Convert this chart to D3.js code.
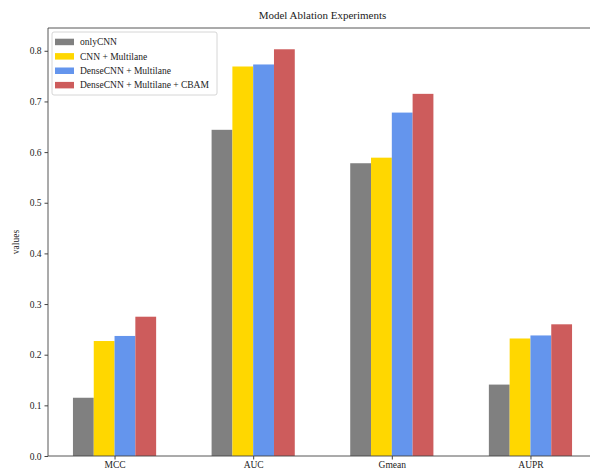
<!DOCTYPE html>
<html>
<head>
<meta charset="utf-8">
<script src="https://cdn.jsdelivr.net/npm/d3@7"></script>
<style>
  html, body { margin: 0; padding: 0; background: #fff; }
  svg { display: block; }
  text { font-family: "Liberation Serif", "DejaVu Serif", serif; fill: #222; }
</style>
</head>
<body>
<script>
// Metrics on the x axis
const categories = ["MCC", "AUC", "Gmean", "AUPR"];
// Model variants (one bar per variant in each group)
const seriesNames = ["onlyCNN", "CNN + Multilane", "DenseCNN + Multilane", "DenseCNN + Multilane + CBAM"];
const onlyCNN = [0.115, 0.644, 0.578, 0.141];
const cnnMultilane = [0.227, 0.769, 0.589, 0.232];
const denseMultilane = [0.237, 0.773, 0.678, 0.238];
const denseMultilaneCbam = [0.275, 0.803, 0.715, 0.260];
const seriesValues = [onlyCNN, cnnMultilane, denseMultilane, denseMultilaneCbam];
const seriesColors = ["#808080", "#FFD700", "#6495ED", "#CD5C5C"];
const yTicks = [0.0, 0.1, 0.2, 0.3, 0.4, 0.5, 0.6, 0.7, 0.8];

const W = 590, H = 470;
const margin = { left: 48, top: 28, bottom: 14 };
const plotRight = 597; // axes extend slightly past the page edge
const barWidth = 0.15;

const svg = d3.select("body").append("svg")
  .attr("width", W).attr("height", H);

// Linear x scale in "group index" units, like a numeric bar axis
const x = d3.scaleLinear().domain([-0.48, 3.48]).range([margin.left, plotRight]);
const y = d3.scaleLinear().domain([0, 0.845]).range([H - margin.bottom, margin.top]);

// Bars
seriesValues.forEach((vals, si) => {
  const offset = (si - 1.5) * barWidth;
  svg.append("g").selectAll("rect")
    .data(vals)
    .join("rect")
    .attr("x", (d, i) => x(i + offset - barWidth / 2))
    .attr("width", x(barWidth) - x(0))
    .attr("y", d => y(d))
    .attr("height", d => y(0) - y(d))
    .attr("fill", seriesColors[si]);
});

// Y axis
const yAxis = d3.axisLeft(y).tickValues(yTicks).tickFormat(d3.format(".1f")).tickSize(3.5).tickPadding(3);
const gy = svg.append("g").attr("transform", `translate(${margin.left},0)`).call(yAxis);
gy.select(".domain").remove();
gy.selectAll("text").attr("font-size", 9.5).attr("font-family", "Liberation Serif, serif").attr("fill", "#333");
gy.selectAll("line").attr("stroke", "#444");

// X axis
const xAxis = d3.axisBottom(x).tickValues(d3.range(categories.length))
  .tickFormat(i => categories[i]).tickSize(3.5).tickPadding(1.5);
const gx = svg.append("g").attr("transform", `translate(0,${H - margin.bottom})`).call(xAxis);
gx.select(".domain").remove();
gx.selectAll("text").attr("font-size", 9.5).attr("font-family", "Liberation Serif, serif").attr("fill", "#333");
gx.selectAll("line").attr("stroke", "#444");

// Spines (left, top, bottom)
const spine = svg.append("g").attr("stroke", "#444").attr("stroke-width", 0.9).attr("fill", "none");
spine.append("line").attr("x1", margin.left).attr("x2", margin.left).attr("y1", y(0.845)).attr("y2", y(0));
spine.append("line").attr("x1", margin.left).attr("x2", plotRight).attr("y1", y(0.845)).attr("y2", y(0.845));
spine.append("line").attr("x1", margin.left).attr("x2", plotRight).attr("y1", y(0)).attr("y2", y(0));

// Title
svg.append("text")
  .attr("x", (margin.left + plotRight) / 2).attr("y", 19)
  .attr("text-anchor", "middle").attr("font-size", 11)
  .text("Model Ablation Experiments");

// Y label
svg.append("text")
  .attr("transform", `translate(19,${(y(0) + y(0.845)) / 2}) rotate(-90)`)
  .attr("text-anchor", "middle").attr("font-size", 9.5).attr("fill", "#333")
  .text("values");

// Legend
const lg = svg.append("g").attr("transform", "translate(52,32)");
lg.append("rect").attr("width", 165).attr("height", 63).attr("rx", 2)
  .attr("fill", "#fff").attr("stroke", "#ccc").attr("stroke-width", 0.8);
seriesNames.forEach((name, i) => {
  const row = lg.append("g").attr("transform", `translate(0,${9.7 + i * 14.4})`);
  row.append("rect").attr("x", 3).attr("y", -3).attr("width", 19).attr("height", 6.5)
    .attr("fill", seriesColors[i]);
  row.append("text").attr("x", 28).attr("y", 3.5).attr("font-size", 9.5).attr("fill", "#333").text(name);
});
</script>
</body>
</html>
